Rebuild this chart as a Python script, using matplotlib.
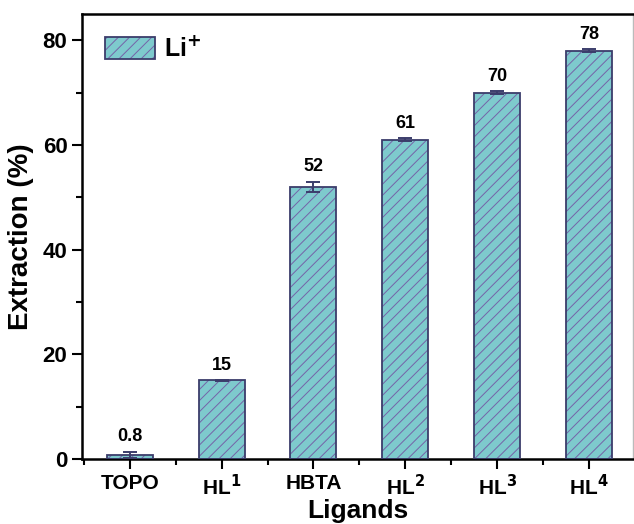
import matplotlib
matplotlib.use("Agg")
import matplotlib.pyplot as plt
from matplotlib.patches import Patch
from matplotlib.legend_handler import HandlerTuple
from matplotlib.ticker import MultipleLocator, FixedLocator

plt.rcParams['font.family'] = ['Liberation Sans', 'DejaVu Sans']
plt.rcParams['font.weight'] = 'bold'
plt.rcParams['hatch.linewidth'] = 0.7

ligands = ['TOPO', 'HL$^{\\mathbf{1}}$', 'HBTA', 'HL$^{\\mathbf{2}}$', 'HL$^{\\mathbf{3}}$', 'HL$^{\\mathbf{4}}$']
extraction = [0.8, 15, 52, 61, 70, 78]
errors = [0.6, 0.1, 1.0, 0.3, 0.3, 0.3]
value_labels = ['0.8', '15', '52', '61', '70', '78']

face = '#7ecacd'
hatch_col = '#7563a8'
edge = '#3b3d6b'

fig = plt.figure(figsize=(6.34, 5.24), dpi=100)
ax = fig.add_axes([82/634, 1-459/524, (633-82)/634, (459-14)/524])

x = list(range(len(ligands)))
ax.bar(x, extraction, width=0.5, color=face, hatch='///', edgecolor=hatch_col, linewidth=0, zorder=2)
ax.bar(x, extraction, width=0.5, fill=False, edgecolor=edge, linewidth=1.3, zorder=3)
ax.errorbar(x, extraction, yerr=errors, fmt='none', ecolor=edge, elinewidth=1.4, capsize=5, capthick=1.4, zorder=4)

for xi, v, e, lab in zip(x, extraction, errors, value_labels):
    ax.text(xi, v + e + 1.2, lab, ha='center', va='bottom', fontsize=13, fontweight='bold')

ax.set_xlim(-0.52, 5.48)
ax.set_ylim(0, 85)
ax.set_xticks(x)
ax.set_xticklabels(ligands, fontsize=15, fontweight='bold')
ax.xaxis.set_minor_locator(FixedLocator([i + 0.5 for i in range(-1, 6)]))
ax.yaxis.set_major_locator(MultipleLocator(20))
ax.yaxis.set_minor_locator(MultipleLocator(10))
ax.tick_params(axis='both', which='major', direction='out', length=7, width=1.5, labelsize=15)
ax.tick_params(axis='y', which='major', labelsize=16)
ax.tick_params(axis='both', which='minor', direction='out', length=4, width=1.5)
for lbl in ax.get_yticklabels():
    lbl.set_fontweight('bold')

for s in ['left', 'bottom', 'top']:
    ax.spines[s].set_linewidth(1.8)
ax.spines['right'].set_linewidth(1.0)
ax.spines['right'].set_color('#bbbbbb')

ax.set_xlabel('Ligands', fontsize=19, fontweight='bold', labelpad=0)
ax.set_ylabel('Extraction (%)', fontsize=20, fontweight='bold', labelpad=6)

h = (Patch(facecolor=face, hatch='///', edgecolor=hatch_col, linewidth=0),
     Patch(fill=False, edgecolor=edge, linewidth=1.3))
ax.legend([h], ['Li$^{\\mathbf{+}}$'], handler_map={tuple: HandlerTuple(ndivide=1, pad=0)},
          loc='upper left', frameon=False, handlelength=2.0, handleheight=0.96,
          borderaxespad=0.5, handletextpad=0.4,
          prop={'weight': 'bold', 'size': 18})

fig.savefig('out.png', dpi=100)
